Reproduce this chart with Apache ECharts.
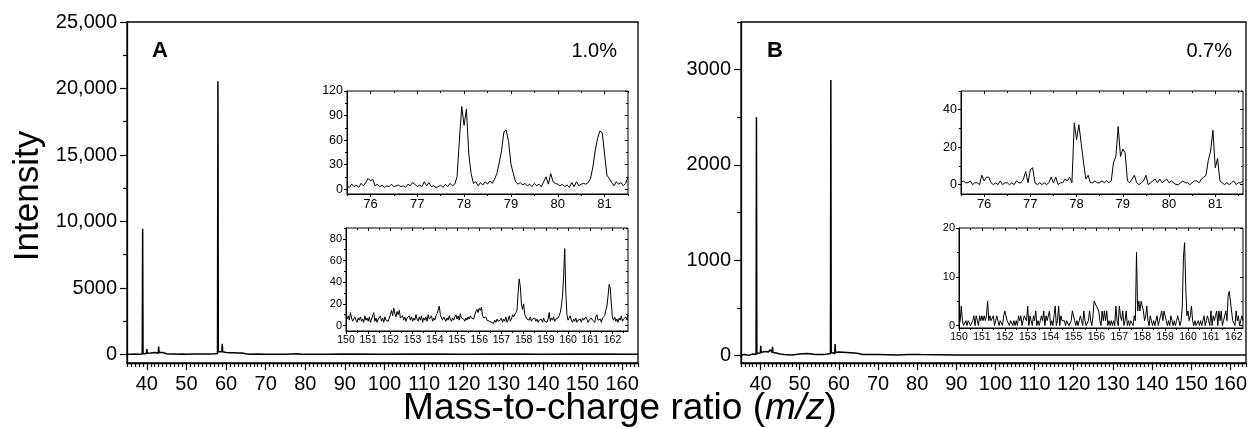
<!DOCTYPE html>
<html><head><meta charset="utf-8">
<script src="https://cdn.jsdelivr.net/npm/echarts@6/dist/echarts.min.js"></script>
<style>html,body{margin:0;padding:0;background:#fff}#c{width:1250px;height:429px}</style>
</head><body><div id="c"></div>
<script>
// ---------------- DATA ----------------
// Main spectrum A (1.0%)
const mainMzA = [35,35.5,36,36.5,37,37.5,38,38.5,38.85,38.95,39.05,39.5,39.9,40.0,40.1,40.6,41,41.5,42,42.5,42.9,43.0,43.1,43.6,44,44.5,45,46,47,48,49,50,52,54,56,57,57.85,57.95,58.05,58.5,58.95,59.05,59.15,60,61,62,63,64,65,66,68,70,75,78,79,85,90,100,110,120,130,140,150,164];
const mainIntA = [20,60,10,80,30,70,20,50,40,9450,60,100,80,400,100,150,120,200,150,180,100,600,150,120,150,80,60,30,40,20,40,20,40,30,40,50,80,20550,200,150,200,800,200,150,140,130,120,110,60,20,30,10,20,60,20,10,30,20,30,20,30,20,30,20];
// Main spectrum B (0.7%)
const mainMzB = [35,36,37,38,38.5,38.85,38.95,39.05,39.5,39.95,40.05,40.15,41,42,42.5,42.95,43.05,43.15,44,45,46,48,50,52,54,56,57.85,57.95,58.05,58.5,58.95,59.05,59.15,60,62,64,65,66,70,75,77.9,78,78.1,80.9,81,81.1,90,100,110,120,126.9,127,127.1,140,150,164];
const mainIntB = [5,10,0,15,5,10,2500,20,30,25,100,30,40,35,60,30,90,30,25,15,10,5,15,20,10,8,20,2890,30,25,20,120,30,35,30,25,20,10,8,5,10,25,10,8,20,8,5,5,5,5,5,15,5,5,5,5];

// Inset A1: m/z 75.5 .. 81.5, step 0.05
const insetA1Start = 75.5, insetA1Step = 0.05;
const insetA1Int = [4,2,6,3,5,2,7,4,8,13,10,12,4,6,3,5,2,4,3,6,3,4,5,3,4,2,6,4,8,6,3,5,3,9,4,8,3,4,2,3,5,2,6,3,7,4,6,15,60,101,78,98,43,19,7,9,4,8,5,9,6,10,7,12,19,32,47,70,72,58,31,19,9,6,8,5,7,4,6,3,7,4,6,3,9,15,6,19,9,7,6,4,6,3,5,2,8,3,9,4,6,7,6,8,13,27,47,62,71,69,43,17,13,8,4,9,6,8,4,7,15];
// Inset A2: m/z 150 .. 162.7, step 0.05
const insetA2Start = 150, insetA2Step = 0.05;
const insetA2Int = [
10,6,9,5,12,7,4,6,8,5,3,7,5,8,4,6,3,9,5,7,
4,8,3,6,5,12,4,7,3,6,5,9,4,7,3,8,5,6,4,7,
10,14,9,16,11,8,13,10,14,7,6,9,5,8,4,7,6,9,5,8,
4,7,5,10,6,4,8,5,9,3,7,5,8,4,10,6,5,9,4,7,
5,9,11,14,18,10,7,5,8,6,4,7,5,9,6,4,7,5,8,10,
6,9,5,11,7,8,6,4,7,5,8,6,9,7,8,6,10,13,15,12,
16,14,17,9,7,6,8,5,6,4,5,3,4,2,5,3,6,4,3,5,
7,3,6,4,8,3,5,9,4,6,10,8,9,12,14,30,43,36,20,15,
20,10,8,6,7,5,8,4,6,5,7,4,6,3,5,4,6,3,7,4,
5,3,6,12,4,7,5,8,4,6,5,7,9,12,18,27,45,71,30,10,
5,6,9,5,3,6,4,7,3,5,4,6,3,7,5,4,8,6,3,5,
4,7,5,6,3,8,10,5,4,6,3,7,6,9,14,18,27,38,35,20,
7,5,8,4,6,3,7,5,9,4,6,5,8,5,10];
// Inset B1: m/z 75.5 .. 81.6, step 0.05
const insetB1Start = 75.5, insetB1Step = 0.05;
const insetB1Int = [
1,2,1,1,2,0,1,1,0,5,
2,4,4,1,0,1,0,2,0,1,1,0,1,0,2,1,1,3,7,1,
8,9,1,0,1,0,1,0,1,4,1,4,0,1,1,3,2,4,1,33,
24,32,22,12,3,5,1,1,2,1,1,2,1,2,1,2,12,15,31,15,
19,17,2,1,3,5,1,0,1,2,5,0,1,2,3,1,3,1,2,3,
1,2,1,0,0,1,2,1,1,0,1,2,2,1,3,4,5,13,18,29,
9,14,2,1,0,1,0,1,2,0,1,1,2];
// Inset B2: m/z 150 .. 162.4, step 0.05
const insetB2Start = 150, insetB2Step = 0.05;
const insetB2Int = [
0,1,4,1,0,0,1,0,1,1,0,0,1,2,0,2,1,0,2,1,
2,1,2,1,2,5,1,2,1,1,2,0,1,2,1,0,1,1,0,2,
3,2,1,1,0,1,1,0,1,0,1,0,2,1,2,0,1,2,2,1,
4,0,2,1,0,2,1,3,0,1,0,1,2,1,3,0,2,1,1,3,
0,1,0,2,4,0,1,4,0,2,1,1,1,0,1,1,0,0,1,3,
3,1,0,1,0,0,2,1,0,3,1,0,0,1,3,1,0,2,5,5,
4,4,3,1,0,3,1,3,1,3,0,1,0,1,0,1,0,4,1,0,
4,2,1,3,0,1,3,0,1,0,1,1,0,2,1,15,3,5,3,5,
5,3,1,2,4,1,0,2,1,0,1,0,1,2,0,1,2,3,1,3,
2,1,0,1,0,2,1,0,1,0,1,2,1,0,1,4,14,17,8,2,
3,1,2,4,1,0,1,0,0,1,0,1,0,1,2,0,1,2,1,0,
3,0,2,1,2,3,0,3,1,3,0,1,2,3,1,6,7,7,3,1,
1,0,3,1,2,0,1,2,1];

// Tick values / labels
const mainXTicks = [40,50,60,70,80,90,100,110,120,130,140,150,160];
const mainYTicksA = [0,5000,10000,15000,20000,25000];
const mainYLabelsA = ['0','5000','10,000','15,000','20,000','25,000'];
const mainYTicksB = [0,1000,2000,3000];
const mainYLabelsB = ['0','1000','2000','3000'];
const insetA1XTicks = [76,77,78,79,80,81];
const insetA1YTicks = [0,30,60,90,120];
const insetA2XTicks = [150,151,152,153,154,155,156,157,158,159,160,161,162];
const insetA2YTicks = [0,20,40,60,80];
const insetB1XTicks = [76,77,78,79,80,81];
const insetB1YTicks = [0,20,40];
const insetB2XTicks = [150,151,152,153,154,155,156,157,158,159,160,161,162];
const insetB2YTicks = [0,10,20];

const panelLabels = ['A','B'];
const panelPercents = ['1.0%','0.7%'];
const xTitle = ['Mass-to-charge ratio (', 'm/z', ')'];
const yTitle = 'Intensity';

// ---------------- BUILD ----------------
const FONT = '"Liberation Sans", Arial, Helvetica, sans-serif';
const pairs = (xs, ys) => xs.map((x, i) => [x, ys[i]]);
const gridPairs = (start, step, ys) => ys.map((y, i) => [Math.round((start + i * step) * 1000) / 1000, y]);
function minorTicks(min, max, step, majors) {
  const out = [];
  for (let v = Math.ceil(min / step - 1e-9) * step; v <= max + 1e-9; v += step) {
    const r = Math.round(v * 1000) / 1000;
    if (!majors.some(m => Math.abs(m - r) < 1e-6)) out.push(r);
  }
  return out;
}
const option = {animation: false, backgroundColor: '#fff', grid: [], xAxis: [], yAxis: [], series: [], graphic: []};

function axis(dim, p, gi, pos, ticks, len, inside, main) {
  const isX = dim === 'x';
  const a = {
    type: 'value', gridIndex: gi, position: pos,
    min: isX ? p.xmin : p.ymin, max: isX ? p.xmax : p.ymax,
    splitLine: {show: false}, silent: true,
    axisLine: {show: !!main, onZero: false, lineStyle: {color: '#000', width: p.lw}},
    axisTick: {show: true, inside: inside, length: len, customValues: ticks, lineStyle: {color: '#000', width: p.tw}},
    axisLabel: {show: false}
  };
  if (main) a.axisLabel = {show: true, customValues: ticks, margin: isX ? p.xMargin : p.yMargin, color: '#000',
    fontFamily: FONT, fontSize: isX ? p.xfs : p.yfs, formatter: isX ? p.xFmt : p.yFmt};
  const arr = isX ? option.xAxis : option.yAxis;
  arr.push(a);
  return arr.length - 1;
}

function addPanel(p) {
  const gi = option.grid.length;
  option.grid.push({left: p.left, top: p.top, width: p.width, height: p.height, show: true,
    borderColor: '#000', borderWidth: p.lw, backgroundColor: 'rgba(0,0,0,0)'});
  const xMin = minorTicks(p.xmin, p.xmax, p.xStep, p.xMajor);
  const yMin = minorTicks(p.ymin, p.ymax, p.yStep, p.yMajor);
  const xi = axis('x', p, gi, 'bottom', p.xMajor, p.majLen, false, true);
  axis('x', p, gi, 'bottom', xMin, p.minLen, false, false);
  const yi = axis('y', p, gi, 'left', p.yMajor, p.majLen, false, true);
  axis('y', p, gi, 'left', yMin, p.minLen, false, false);
  if (p.mirror) {
    axis('x', p, gi, 'top', p.xMajor, p.majLen, true, false);
    axis('x', p, gi, 'top', xMin, p.minLen, true, false);
    axis('y', p, gi, 'right', p.yMajor, p.majLen, true, false);
    axis('y', p, gi, 'right', yMin, p.minLen, true, false);
  }
  option.series.push({type: 'line', xAxisIndex: xi, yAxisIndex: yi, data: p.data, showSymbol: false, symbol: 'none',
    silent: true, clip: true, lineStyle: {color: '#000', width: p.sw}});
}

const numFmt = v => String(v);
const mapFmt = (ticks, labels) => v => { const i = ticks.indexOf(v); return i >= 0 ? labels[i] : String(v); };

const mainCommon = {xmin: 35, xmax: 164, xMajor: mainXTicks, xStep: 1, lw: 1.3, tw: 1.2, majLen: 7, minLen: 4,
  xfs: 20, yfs: 20, xMargin: 11, yMargin: 10, xFmt: numFmt, mirror: false, sw: 1.5, top: 22, width: 511, height: 341};
addPanel(Object.assign({}, mainCommon, {left: 127, ymin: -640, ymax: 25000, yMajor: mainYTicksA, yStep: 2500,
  yFmt: mapFmt(mainYTicksA, mainYLabelsA), data: pairs(mainMzA, mainIntA)}));
addPanel(Object.assign({}, mainCommon, {left: 741, ymin: -80, ymax: 3500, yMajor: mainYTicksB, yStep: 500,
  yFmt: mapFmt(mainYTicksB, mainYLabelsB), data: pairs(mainMzB, mainIntB)}));

const insetCommon = {lw: 1, tw: 1, majLen: 3, minLen: 2, xMargin: 4, yMargin: 4, xFmt: numFmt, yFmt: numFmt, mirror: true, sw: 1, xStep: 0.5};
addPanel(Object.assign({}, insetCommon, {left: 347, top: 91, width: 281, height: 103, xmin: 75.5, xmax: 81.5,
  ymin: -6, ymax: 120, xMajor: insetA1XTicks, yMajor: insetA1YTicks, yStep: 15, xfs: 13, yfs: 12.5,
  data: gridPairs(insetA1Start, insetA1Step, insetA1Int)}));
addPanel(Object.assign({}, insetCommon, {left: 346, top: 228, width: 282, height: 103, xmin: 150, xmax: 162.7,
  ymin: -5, ymax: 90, xMajor: insetA2XTicks, yMajor: insetA2YTicks, yStep: 10, xfs: 10.5, yfs: 11,
  data: gridPairs(insetA2Start, insetA2Step, insetA2Int)}));
addPanel(Object.assign({}, insetCommon, {left: 961, top: 91, width: 282, height: 103, xmin: 75.5, xmax: 81.6,
  ymin: -5, ymax: 50, xMajor: insetB1XTicks, yMajor: insetB1YTicks, yStep: 10, xfs: 13, yfs: 12.5,
  data: gridPairs(insetB1Start, insetB1Step, insetB1Int)}));
addPanel(Object.assign({}, insetCommon, {left: 959, top: 228, width: 284, height: 100, xmin: 150, xmax: 162.4,
  ymin: -0.5, ymax: 20, xMajor: insetB2XTicks, yMajor: insetB2YTicks, yStep: 5, xfs: 10.5, yfs: 11,
  data: gridPairs(insetB2Start, insetB2Step, insetB2Int)}));

const txt = (x, y, text, font, align, extra) => Object.assign({type: 'text', x: x, y: y, silent: true,
  style: {text: text, font: font, fill: '#000', textAlign: align, textVerticalAlign: 'middle'}}, extra || {});
option.graphic = [
  txt(152, 51, panelLabels[0], 'bold 22px ' + FONT, 'left'),
  txt(617, 51, panelPercents[0], '20px ' + FONT, 'right'),
  txt(767, 51, panelLabels[1], 'bold 22px ' + FONT, 'left'),
  txt(1232, 51, panelPercents[1], '20px ' + FONT, 'right'),
  txt(28, 196, yTitle, '35px ' + FONT, 'center', {rotation: Math.PI / 2}),
  {type: 'text', x: 620, y: 409, silent: true, style: {
    text: '{n|' + xTitle[0] + '}{i|' + xTitle[1] + '}{n|' + xTitle[2] + '}',
    textAlign: 'center', textVerticalAlign: 'middle', fill: '#000',
    rich: {n: {font: '37px ' + FONT, fill: '#000'}, i: {font: 'italic 37px ' + FONT, fill: '#000'}}}}
];

const chart = echarts.init(document.getElementById('c'), null, {renderer: 'canvas'});
chart.setOption(option);
</script></body></html>
